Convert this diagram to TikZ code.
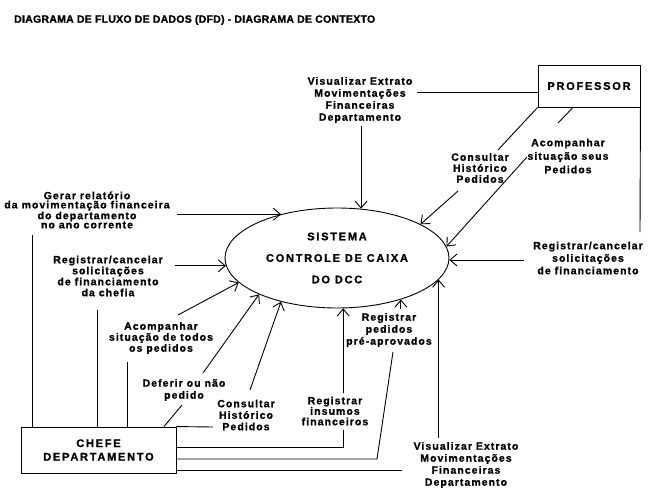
\documentclass[tikz,border=0pt]{standalone}
\usepackage{fontspec}
\usetikzlibrary{shapes.geometric,arrows.meta}
\newfontfamily\lblfont[LetterSpace=10,BoldFeatures={FakeBold=1}]{Liberation Sans}
\newfontfamily\entfont[LetterSpace=16,BoldFeatures={FakeBold=1.2}]{Liberation Sans}
\newfontfamily\ttlfont[LetterSpace=2.5,BoldFeatures={FakeBold=1.2}]{Liberation Sans}
\tikzset{
  lbl/.style={font={\lblfont\bfseries\fontsize{10.5}{#1}\selectfont}, align=center, inner sep=0pt},
  lbl/.default=12,
  ent/.style={draw, line width=0.9pt, inner sep=0pt, align=center,
    font={\entfont\bfseries\fontsize{11}{13.5}\selectfont}},
  ln/.style={line width=0.9pt},
  flow/.style={line width=0.9pt, -{Straight Barb[length=7pt,width=12pt]}}
}
\begin{document}
\begin{tikzpicture}[x=1pt,y=-1pt]
\useasboundingbox (0,0) rectangle (672,492);
\fill[white] (0,0) rectangle (672,492);

% title
\node[anchor=west, inner sep=0pt, font={\ttlfont\bfseries\fontsize{10.5}{12}\selectfont}] (title) at (14,20)
  {DIAGRAMA DE FLUXO DE DADOS (DFD) - DIAGRAMA DE CONTEXTO};

% entities and process
\node[ent, minimum width=102pt, minimum height=42pt] (prof) at (589,86) {PROFESSOR};
\node[ent, minimum width=155pt, minimum height=46pt] (chefe) at (98.5,450) {CHEFE\\DEPARTAMENTO};
\node[ellipse, draw, line width=0.9pt, minimum width=224pt, minimum height=100pt, inner sep=0pt,
  align=center, font={\entfont\bfseries\fontsize{11}{21.5}\selectfont}] (sys) at (337,258)
  {SISTEMA\\CONTROLE DE CAIXA\\DO DCC};

% labels
\node[lbl] (vis1) at (360,100) {Visualizar Extrato\\Movimentações\\Financeiras\\Departamento};
\node[lbl=11] (consP) at (480,168) {Consultar\\Histórico\\Pedidos};
\node[lbl=13.5] (acoP) at (568,156) {Acompanhar\\situação seus\\Pedidos};
\node[lbl=12.5] (regR) at (588,258) {Registrar/cancelar\\solicitações\\de financiamento};
\node[lbl=9.2] (gerar) at (87,210) {Gerar relatório\\da movimentação financeira\\do departamento\\no ano corrente};
\node[lbl=11] (regC) at (108,276) {Registrar/cancelar\\solicitações\\de financiamento\\da chefia};
\node[lbl=11] (acoC) at (161,338) {Acompanhar\\situação de todos\\os pedidos};
\node[lbl=12] (defr) at (184,390) {Deferir ou não\\pedido};
\node[lbl=11.5] (consC) at (246,415) {Consultar\\Histórico\\Pedidos};
\node[lbl=10.5] (ins) at (335,411) {Registrar\\insumos\\financeiros};
\node[lbl=12] (pre) at (389,330) {Registrar\\pedidos\\pré-aprovados};
\node[lbl=12] (vis2) at (466,465) {Visualizar Extrato\\Movimentações\\Financeiras\\Departamento};

% free points
\coordinate (v1a) at (417,92);
\coordinate (cp1) at (498,150);
\coordinate (cp2) at (458,191);
\coordinate (ap0) at (573,107);
\coordinate (ap1) at (558,123);
\coordinate (ap2) at (527,157);
\coordinate (rr1) at (640,232);
\coordinate (g1) at (32,235);
\coordinate (rc1) at (97,310);
\coordinate (ac1) at (178,315);
\coordinate (ac2) at (127,362);
\coordinate (df0) at (164,427);
\coordinate (df1) at (182,405);
\coordinate (df2) at (203,373);
\coordinate (cc1) at (213,427);
\coordinate (cc2) at (250,390);
\coordinate (in1) at (343,447);
\coordinate (in2) at (343,430);
\coordinate (pr1) at (377,459);
\coordinate (pr2) at (393,352);
\coordinate (vb1) at (402,470);

% professor flows
\draw[ln] (prof.west |- v1a) -- (v1a);
\draw[flow] ([yshift=-3pt]vis1.south -| sys.64) -- (sys.64);
\draw[ln] (prof.south west) -- (cp1);
\draw[flow] (cp2) -- (sys.22);
\draw[ln] (prof.south -| ap0) -- (ap1);
\draw[flow] (ap2) -- (sys.6);
\draw[ln] (prof.south east) -- (rr1);
\draw[flow] ([xshift=-9pt]regR.west |- sys.-1) -- (sys.-1);

% chefe flows
\draw[flow] ([xshift=7pt]gerar.east |- sys.142) -- (sys.142);
\draw[ln] (g1) -- (chefe.north -| g1);
\draw[flow] ([xshift=12pt]regC.east |- sys.184) -- (sys.184);
\draw[ln] (rc1) -- (chefe.north -| rc1);
\draw[flow] (ac1) -- (sys.194.5);
\draw[ln] (ac2) -- (chefe.north -| ac2);
\draw[ln] (chefe.north -| df0) -- (df1);
\draw[flow] (df2) -- (sys.205.7);
\draw[ln] (chefe.north east) -- (cc1);
\draw[flow] (cc2) -- (sys.218.7);
\draw[ln] (chefe.east |- in1) -- (in1) -- (in2);
\draw[flow] ([yshift=3pt]ins.north -| sys.-83) -- (sys.-83);
\draw[ln] (chefe.east |- pr1) -- (pr1) -- (pr2);
\draw[flow] ([yshift=4pt]pre.north -| sys.-33) -- (sys.-33);
\draw[ln] (chefe.east |- vb1) -- (vb1);
\draw[flow] ([yshift=4pt]vis2.north -| sys.-12.7) -- (sys.-12.7);
\end{tikzpicture}
\end{document}
